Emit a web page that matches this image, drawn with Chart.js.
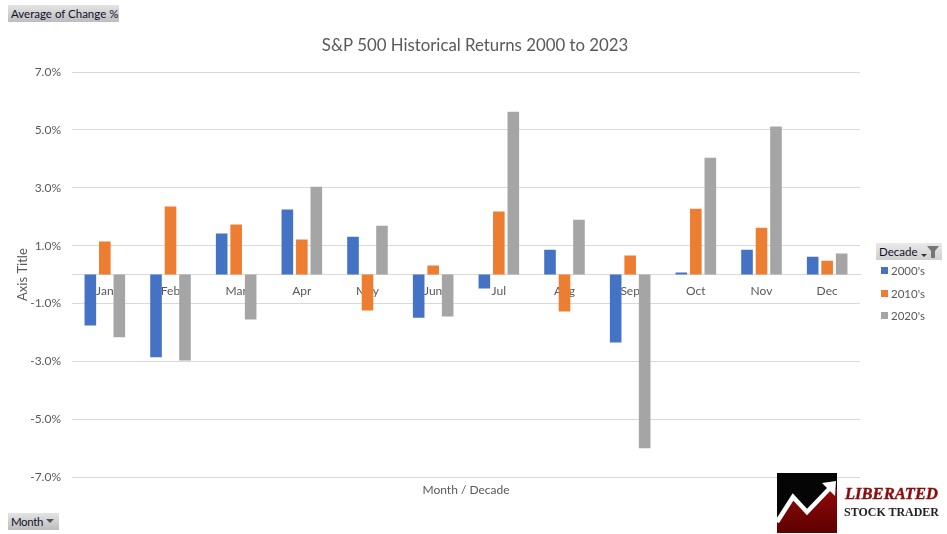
<!DOCTYPE html>
<html lang="en">
<head>
    <meta charset="UTF-8">
    <title>S&amp;P 500 Historical Returns 2000 to 2023</title>
    <script src="https://cdn.jsdelivr.net/npm/chart.js"></script>
    <style>
        html, body { margin: 0; padding: 0; background: #fff; }
        #wrap { position: relative; width: 947px; height: 534px; overflow: hidden; font-family: Lato, sans-serif; }
        #chart { position: absolute; left: 0; top: 0; }
        .chip { position: absolute; height: 17px; line-height: 17px; font-size: 11.5px; color: #10102a; background: linear-gradient(#e4e4e4, #bdbdbd); white-space: nowrap; }
        .chip span { padding-left: 3px; }
        .legend-item { position: absolute; left: 881px; font-size: 11.5px; color: #595959; line-height: 14px; }
        .legend-item i { position: absolute; left: 0; top: 3px; width: 7px; height: 7px; }
        .legend-item b { position: absolute; left: 10px; top: 0; font-weight: normal; white-space: nowrap; }
        #logo { position: absolute; left: 777px; top: 473px; }
    </style>
</head>
<body>
    <div id="wrap">
        <canvas id="chart" width="947" height="534"></canvas>
        <div class="chip" style="left:8px;top:5px;width:111px"><span>Average of Change %</span></div>
        <div class="chip" style="left:8px;top:513px;width:51px"><span style="letter-spacing:-0.4px">Month</span>
            <svg width="8" height="5" style="position:absolute;left:38px;top:6px"><path d="M0 0H8L4 4Z" fill="#555"/></svg>
        </div>
        <div class="chip" style="left:876px;top:243px;width:66px;background:linear-gradient(#e9e9e9,#d0d0d0)"><span>Decade</span>
            <svg width="22" height="14" style="position:absolute;left:43px;top:2px"><path d="M2 9H8L5 12Z" fill="#333"/><path d="M8 1H20L16 6V13H12V6Z" fill="#777"/></svg>
        </div>
        <div id="legend"></div>
        <svg id="logo" width="170" height="60" viewBox="0 0 170 60">
            <defs>
                <linearGradient id="red" x1="0" y1="0" x2="0" y2="1">
                    <stop offset="0" stop-color="#8f0a0a"/>
                    <stop offset="1" stop-color="#5e0000"/>
                </linearGradient>
            </defs>
            <rect x="0" y="0" width="60" height="60" fill="#050505"/>
            <path d="M0 49L16 24L30 39L51 16L60 16V60H0Z" fill="url(#red)"/>
            <path d="M0 49L16 24L30 39L53 15" fill="none" stroke="#fff" stroke-width="4.5"/>
            <path d="M45 10L59 8L58 23Z" fill="#fff"/>
            <text x="68" y="26" font-family="Liberation Serif" font-weight="bold" font-style="italic" font-size="17" fill="#8a0d0d" stroke="#8a0d0d" stroke-width="0.4" textLength="93" lengthAdjust="spacingAndGlyphs">LIBERATED</text>
            <text x="67" y="43" font-family="Liberation Serif" font-weight="bold" font-size="13.5" fill="#222" textLength="95" lengthAdjust="spacingAndGlyphs">STOCK TRADER</text>
        </svg>
    </div>
    <script>
        const months = ['Jan', 'Feb', 'Mar', 'Apr', 'May', 'Jun', 'Jul', 'Aug', 'Sep', 'Oct', 'Nov', 'Dec'];
        const decades = ["2000's", "2010's", "2020's"];
        const colors = ['#4472c4', '#ed7d31', '#a5a5a5'];
        const values2000s = [-1.76, -2.86, 1.42, 2.25, 1.31, -1.49, -0.48, 0.86, -2.35, 0.07, 0.86, 0.62];
        const values2010s = [1.14, 2.35, 1.73, 1.21, -1.24, 0.31, 2.18, -1.28, 0.66, 2.28, 1.62, 0.48];
        const values2020s = [-2.17, -2.97, -1.55, 3.04, 1.69, -1.45, 5.63, 1.90, -6.01, 4.04, 5.12, 0.73];

        const gray = '#595959';
        const gridColor = '#d9d9d9';
        const tickFont = { family: 'Lato', size: 12 };

        new Chart(document.getElementById('chart'), {
            type: 'bar',
            data: {
                labels: months,
                datasets: [
                    { label: decades[0], data: values2000s, backgroundColor: colors[0] },
                    { label: decades[1], data: values2010s, backgroundColor: colors[1] },
                    { label: decades[2], data: values2020s, backgroundColor: colors[2] }
                ]
            },
            options: {
                responsive: false,
                animation: false,
                barPercentage: 0.8,
                categoryPercentage: 0.662,
                layout: { padding: { left: 3, right: 0, top: 0, bottom: 0 } },
                plugins: {
                    legend: { display: false },
                    tooltip: { enabled: false },
                    title: {
                        display: true,
                        text: 'S&P 500 Historical Returns 2000 to 2023',
                        color: gray,
                        font: { family: 'Lato', size: 16.8, weight: 'normal' },
                        padding: { top: 36, bottom: 16 }
                    }
                },
                scales: {
                    x: {
                        position: { y: 0 },
                        grid: { display: false },
                        border: { color: gridColor, width: 1 },
                        ticks: { color: gray, font: tickFont, padding: 1, maxRotation: 0 }
                    },
                    // second category axis only carries the title under the plot
                    xTitle: {
                        type: 'category',
                        position: 'bottom',
                        labels: months,
                        grid: { display: false },
                        border: { display: false },
                        ticks: { display: false },
                        title: { display: true, text: 'Month / Decade', color: gray, font: { family: 'Lato', size: 12 }, padding: { top: 4, bottom: 37 } },
                        afterFit: scale => { scale.height = 57; }
                    },
                    y: {
                        min: -7,
                        max: 7,
                        grid: { color: gridColor, drawTicks: false },
                        border: { display: false },
                        ticks: {
                            stepSize: 2,
                            color: gray,
                            font: tickFont,
                            padding: 11,
                            callback: v => v.toFixed(1) + '%'
                        },
                        title: { display: true, text: 'Axis Title', color: gray, font: { family: 'Lato', size: 13 }, padding: { top: 12, bottom: 0 } },
                        afterFit: scale => { scale.width = 69; }
                    },
                    // empty right axis keeps room for the legend, title stays centred on the page
                    yRight: {
                        position: 'right',
                        grid: { display: false },
                        border: { display: false },
                        ticks: { display: false },
                        afterFit: scale => { scale.width = 87; }
                    }
                }
            }
        });

        // legend sits beside the plot under the Decade button
        const legendTops = [264, 287, 309];
        document.getElementById('legend').innerHTML = decades.map((d, i) =>
            `<div class="legend-item" style="top:${legendTops[i]}px"><i style="background:${colors[i]}"></i><b>${d}</b></div>`
        ).join('');
    </script>
</body>
</html>
